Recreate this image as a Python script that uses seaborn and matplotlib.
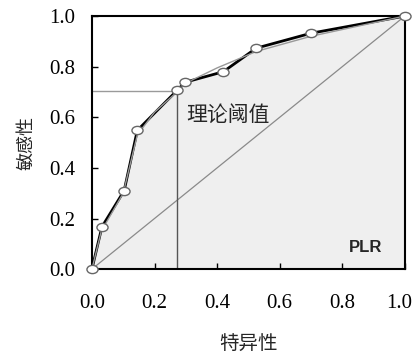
import matplotlib
matplotlib.use("Agg")
import matplotlib.pyplot as plt
import matplotlib.transforms as mtransforms
import seaborn as sns
import pandas as pd
from matplotlib.path import Path
from matplotlib.transforms import Affine2D

# ROC points (1 - specificity, sensitivity)
fpr = [0.0, 0.032, 0.103, 0.145, 0.272, 0.297, 0.42, 0.525, 0.70, 1.0]
tpr = [0.0, 0.167, 0.31, 0.548, 0.706, 0.738, 0.78, 0.873, 0.932, 1.0]

# smoothed fit drawn as a thin grey line
fit_x = [0.0, 0.03, 0.10, 0.145, 0.20, 0.272, 0.30, 0.40, 0.525, 0.70, 1.0]
fit_y = [0.0, 0.15, 0.30, 0.53, 0.62, 0.70, 0.735, 0.795, 0.86, 0.92, 1.0]

cut_x = 0.272
cut_y = 0.702
ticks = [0.0, 0.2, 0.4, 0.6, 0.8, 1.0]

sns.set_style("ticks")
plt.rcParams['font.family'] = ['Liberation Serif', 'Noto Sans CJK SC']
plt.rcParams['xtick.direction'] = 'in'
plt.rcParams['ytick.direction'] = 'in'

fig = plt.figure(figsize=(4.14, 3.56), dpi=100)
ax = fig.add_axes([0.222, 0.244, 0.756, 0.711])

df = pd.DataFrame({'x': fpr, 'y': tpr})
fit = pd.DataFrame({'x': fit_x, 'y': fit_y})

ax.fill_between(fpr, tpr, 0, color='#efefef', zorder=0)
ax.plot([0, 1], [0, 1], color='#8a8a8a', lw=0.9, zorder=1)
ax.plot([0, cut_x], [cut_y, cut_y], color='#9a9a9a', lw=1.0, zorder=1)
ax.plot([cut_x, cut_x], [0, cut_y], color='#555555', lw=1.0, zorder=1)

sns.lineplot(data=df, x='x', y='y', color='black', lw=2.0, sort=False,
             estimator=None, ax=ax, zorder=2)
sns.lineplot(data=fit, x='x', y='y', color='#999999', lw=1.0, sort=False,
             estimator=None, ax=ax, zorder=3)

ell = Path.unit_circle().transformed(Affine2D().scale(1.35, 1.0))
ax.plot(fpr, tpr, linestyle='none', marker=ell, markersize=8,
        markerfacecolor='white', markeredgecolor='#666666',
        markeredgewidth=1.0, zorder=4, clip_on=False)

ax.text(0.30, 0.585, '理论阈值', fontsize=15, family=['Noto Sans CJK SC'])
ax.text(0.928, 0.085, 'PLR', fontsize=12, fontweight='bold',
        family=['Liberation Sans'], ha='right', va='center')

ax.set_xlim(0, 1)
ax.set_ylim(0, 1)
ax.set_xticks(ticks)
ax.set_yticks(ticks)
ax.set_xticklabels([f'{t:.1f}' for t in ticks], fontsize=15)
ax.set_yticklabels([f'{t:.1f}' for t in ticks], fontsize=15)
ax.tick_params(length=4, width=1, colors='black')
ax.tick_params(axis='x', pad=18)
ax.tick_params(axis='y', pad=12)
ax.set_xlabel('特异性', fontsize=14, family=['Noto Sans CJK SC'], labelpad=15)
ax.set_ylabel('敏感性', fontsize=13, family=['Noto Sans CJK SC'], labelpad=10)

# last x label sits a little left, as in the source figure
last = ax.get_xticklabels()[-1]
last.set_transform(last.get_transform() +
                   mtransforms.ScaledTranslation(-6 / 100, 0, fig.dpi_scale_trans))

for s in ax.spines.values():
    s.set_color('black')
    s.set_linewidth(1.5)

fig.savefig('out.png', dpi=100)
